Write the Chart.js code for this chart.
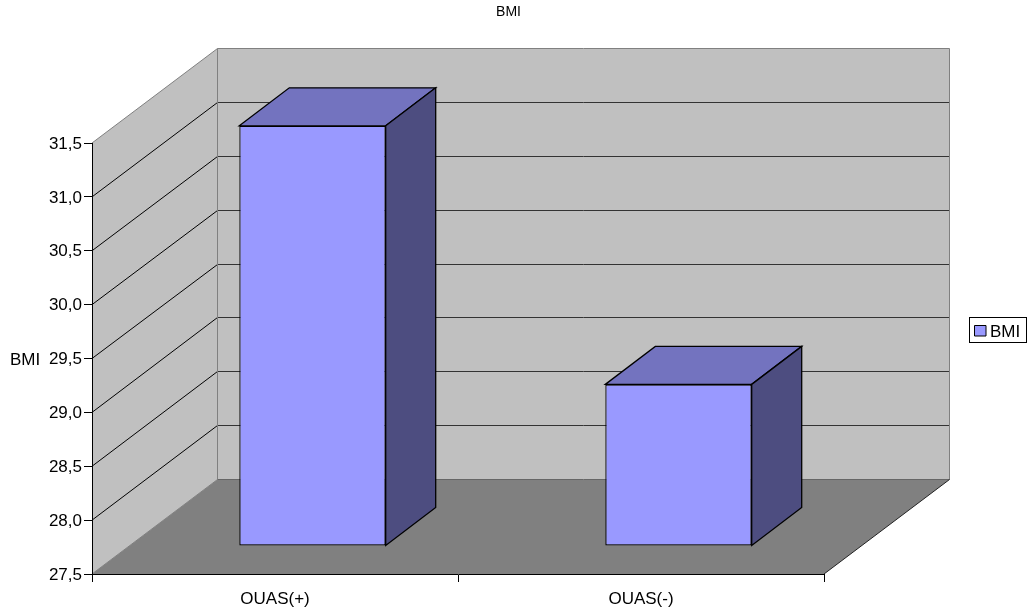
<!DOCTYPE html>
<html>
<head>
<meta charset="utf-8">
<title>BMI</title>
<script src="https://cdn.jsdelivr.net/npm/chart.js@4"></script>
<style>
    html, body { margin: 0; padding: 0; background: #fff; }
    canvas { display: block; }
</style>
</head>
<body>
<canvas id="bmiChart" width="1029" height="614"></canvas>
<script>
// Chart data
const categories = ['OUAS(+)', 'OUAS(-)'];
const bmiValues = [31.4, 29.0];
const seriesName = 'BMI';
const axisMin = 27.5;
const axisMax = 31.5;
const axisStep = 0.5;

// Oblique projection of the 3D box
const wallDepth = { x: 125.5, y: -95 };
const barOffset = { x: 37.5, y: -28 };
const barDepth = { x: 50, y: -38 };

const barFront = '#9999ff';
const barTop = '#7373bf';
const barSide = '#4d4d80';
const wallColor = '#c0c0c0';
const floorColor = '#808080';
const edgeColor = '#808080';
const fontFamily = '"Liberation Sans", Arial, sans-serif';

function polygon(ctx, points, fill, stroke, lineWidth) {
    ctx.beginPath();
    points.forEach((p, i) => i === 0 ? ctx.moveTo(p[0], p[1]) : ctx.lineTo(p[0], p[1]));
    ctx.closePath();
    if (fill) {
        ctx.fillStyle = fill;
        ctx.fill();
    }
    if (stroke) {
        ctx.strokeStyle = stroke;
        ctx.lineWidth = lineWidth || 1;
        ctx.stroke();
    }
}

function line(ctx, x1, y1, x2, y2, color) {
    ctx.beginPath();
    ctx.moveTo(x1, y1);
    ctx.lineTo(x2, y2);
    ctx.strokeStyle = color;
    ctx.lineWidth = 1;
    ctx.stroke();
}

// Walls, floor and gridlines go underneath the axes
const box3d = {
    id: 'box3d',
    afterLayout(chart) {
        // title sits a little left of the canvas centre
        chart.titleBlock.left = 0;
        chart.titleBlock.right = 1017;
    },
    beforeDraw(chart) {
        const ctx = chart.ctx;
        const { left, right, top, bottom } = chart.chartArea;
        const dx = wallDepth.x;
        const dy = wallDepth.y;
        const backTop = Math.round(top + dy) + 0.5;
        const backBottom = Math.round(bottom + dy) + 0.5;
        ctx.save();
        polygon(ctx, [[left, top], [left + dx, backTop], [left + dx, backBottom], [left, bottom]], wallColor);
        polygon(ctx, [[left + dx, backTop], [right + dx, backTop], [right + dx, backBottom], [left + dx, backBottom]], wallColor);
        polygon(ctx, [[left, bottom], [left + dx, backBottom], [right + dx, backBottom], [right, bottom]], floorColor);

        // gridlines run along the left wall and across the back wall
        const yScale = chart.scales.y;
        yScale.ticks.forEach(tick => {
            if (tick.value === axisMin || tick.value === axisMax) {
                return;
            }
            const y = yScale.getPixelForValue(tick.value);
            const backY = Math.round(y + dy) + 0.5;
            line(ctx, left, y, left + dx, backY, '#000');
            line(ctx, left + dx, backY, right + dx, backY, '#333');
        });

        line(ctx, left, top, left + dx, backTop, edgeColor);
        line(ctx, left + dx, backTop, right + dx, backTop, edgeColor);
        line(ctx, left + dx, backTop, left + dx, backBottom, edgeColor);
        line(ctx, right + dx, backTop, right + dx, backBottom, edgeColor);
        line(ctx, left, bottom, left + dx, backBottom, edgeColor);
        line(ctx, left + dx, backBottom, right + dx, backBottom, '#666');
        line(ctx, right, bottom, right + dx, backBottom, '#222');
        ctx.restore();
    },
    // the library draws each bar's front face, the other two faces are added here
    beforeDatasetDraw(chart, args) {
        const ctx = chart.ctx;
        ctx.save();
        ctx.translate(barOffset.x, barOffset.y);
        const dx = barDepth.x;
        const dy = barDepth.y;
        args.meta.data.forEach(bar => {
            const l = bar.x - bar.width / 2;
            const r = bar.x + bar.width / 2;
            polygon(ctx, [[l, bar.y], [l + dx, bar.y + dy], [r + dx, bar.y + dy], [r, bar.y]], barTop, '#000', 1.3);
            polygon(ctx, [[r, bar.y], [r + dx, bar.y + dy], [r + dx, bar.base + dy], [r, bar.base]], barSide, '#000', 1.3);
        });
    },
    afterDatasetDraw(chart) {
        chart.ctx.restore();
    },
    afterDraw(chart) {
        const ctx = chart.ctx;
        ctx.save();
        // horizontal axis title
        ctx.font = '17px ' + fontFamily;
        ctx.fillStyle = '#000';
        ctx.textAlign = 'left';
        ctx.textBaseline = 'middle';
        ctx.fillText(seriesName, 10, 360);

        // legend with its frame
        ctx.fillStyle = '#fff';
        ctx.fillRect(969.5, 317.5, 57, 25);
        ctx.strokeStyle = '#000';
        ctx.lineWidth = 1;
        ctx.strokeRect(969.5, 317.5, 57, 25);
        polygon(ctx, [[974.5, 325.5], [986, 325.5], [986, 336], [974.5, 336]], barFront, '#000', 1);
        ctx.fillStyle = '#000';
        ctx.fillText(seriesName, 990, 332);
        ctx.restore();
    }
};

const ctx = document.getElementById('bmiChart').getContext('2d');
const bmiChart = new Chart(ctx, {
    type: 'bar',
    data: {
        labels: categories,
        datasets: [{
            label: seriesName,
            data: bmiValues,
            base: axisMin,
            backgroundColor: barFront,
            borderColor: '#000',
            borderWidth: 1.3,
            borderSkipped: false,
            categoryPercentage: 1,
            barPercentage: 0.4,
            clip: false
        }]
    },
    options: {
        responsive: false,
        animation: false,
        devicePixelRatio: 1,
        layout: {
            padding: { left: 0, top: 0, right: 205, bottom: 0 }
        },
        plugins: {
            legend: { display: false },
            tooltip: { enabled: false },
            title: {
                display: true,
                text: seriesName,
                color: '#000',
                font: { family: fontFamily, size: 14, weight: 'normal' },
                padding: { top: 4, bottom: 122.2 }
            }
        },
        scales: {
            x: {
                afterFit: scale => { scale.height = 40; },
                grid: {
                    drawOnChartArea: false,
                    tickLength: 8,
                    tickColor: c => c.index === categories.length ? '#808080' : '#000'
                },
                border: { color: '#000', width: 1 },
                ticks: {
                    color: '#000',
                    padding: 7,
                    maxRotation: 0,
                    font: { family: fontFamily, size: 17 }
                }
            },
            y: {
                min: axisMin,
                max: axisMax,
                afterFit: scale => { scale.width = 92; },
                grid: {
                    drawOnChartArea: false,
                    tickLength: 8,
                    tickColor: '#000'
                },
                border: { color: '#000', width: 1 },
                ticks: {
                    stepSize: axisStep,
                    color: '#000',
                    padding: 2,
                    labelOffset: 1,
                    font: { family: fontFamily, size: 17 },
                    callback: value => value.toFixed(1).replace('.', ',')
                }
            }
        }
    },
    plugins: [box3d]
});
</script>
</body>
</html>
